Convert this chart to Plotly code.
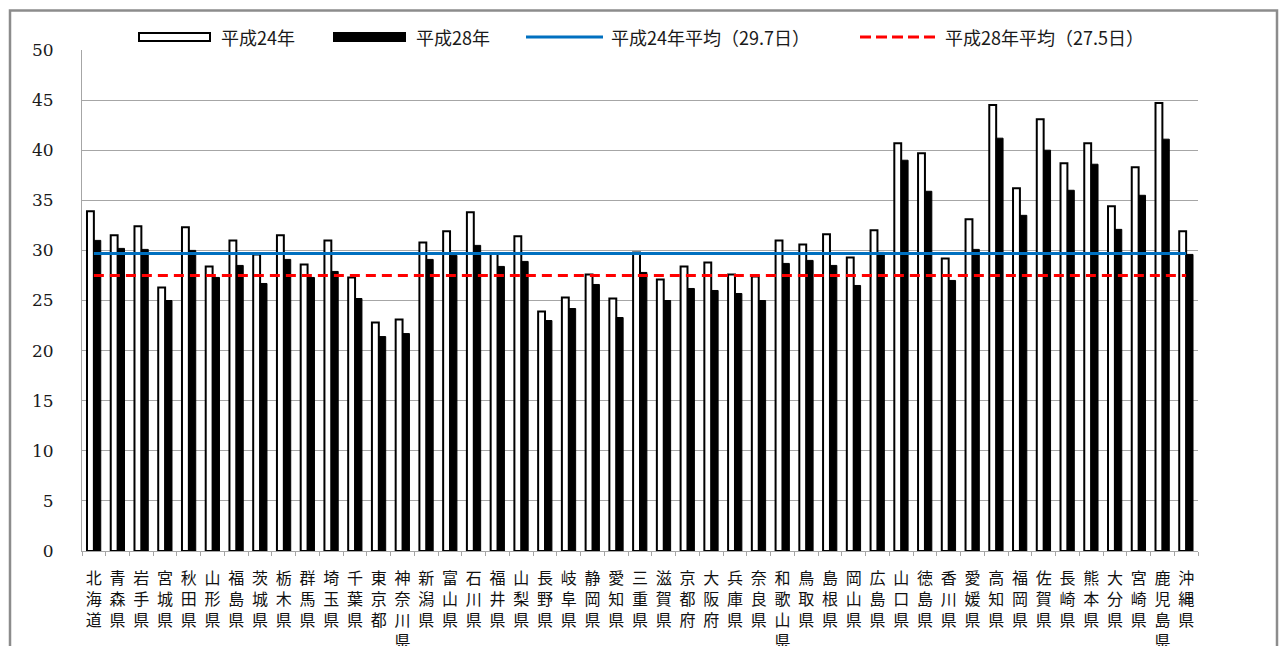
import plotly.graph_objects as go

# 都道府県
prefectures = ["北海道", "青森県", "岩手県", "宮城県", "秋田県", "山形県", "福島県", "茨城県",
               "栃木県", "群馬県", "埼玉県", "千葉県", "東京都", "神奈川県", "新潟県", "富山県",
               "石川県", "福井県", "山梨県", "長野県", "岐阜県", "静岡県", "愛知県", "三重県",
               "滋賀県", "京都府", "大阪府", "兵庫県", "奈良県", "和歌山県", "鳥取県", "島根県",
               "岡山県", "広島県", "山口県", "徳島県", "香川県", "愛媛県", "高知県", "福岡県",
               "佐賀県", "長崎県", "熊本県", "大分県", "宮崎県", "鹿児島県", "沖縄県"]

# 平成24年（日）
h24 = [33.9, 31.5, 32.4, 26.3, 32.3, 28.4, 31.0, 29.6, 31.5, 28.6, 31.0, 27.3, 22.8, 23.1,
       30.8, 31.9, 33.8, 29.7, 31.4, 23.9, 25.3, 27.6, 25.2, 29.8, 27.1, 28.4, 28.8, 27.6,
       27.4, 31.0, 30.6, 31.6, 29.3, 32.0, 40.7, 39.7, 29.2, 33.1, 44.5, 36.2, 43.1, 38.7,
       40.7, 34.4, 38.3, 44.7, 31.9]

# 平成28年（日）
h28 = [31.0, 30.2, 30.1, 25.0, 30.0, 27.3, 28.5, 26.7, 29.1, 27.3, 27.9, 25.2, 21.4, 21.7,
       29.1, 29.5, 30.5, 28.4, 28.9, 23.0, 24.2, 26.6, 23.3, 27.8, 25.0, 26.2, 26.0, 25.7,
       25.0, 28.7, 29.0, 28.5, 26.5, 29.8, 39.0, 35.9, 27.0, 30.1, 41.2, 33.5, 40.0, 36.0,
       38.6, 32.1, 35.5, 41.1, 29.6]

avg24 = 29.7
avg28 = 27.5

legend_labels = ["平成24年", "平成28年",
                 f"平成24年平均（{avg24}日）", f"平成28年平均（{avg28}日）"]

y_ticks = list(range(0, 51, 5))

# vertical labels: one character per line
x_labels = ["<br>".join(p) for p in prefectures]

W, H = 1283, 646
ML, MR, MT, MB = 82, 85, 50, 95
PW = W - ML - MR
PH = H - MT - MB

BLUE = "#0070C0"
RED = "#FF0000"
GRID = "#A6A6A6"
FRAME = "#8C8C8C"
JP_FONT = "Noto Sans CJK JP"


def fx(px):
    return (px - ML) / PW


def fy(py):
    return (H - MB - py) / PH


fig = go.Figure()

fig.add_trace(go.Bar(
    x=x_labels, y=h24, name=legend_labels[0],
    marker=dict(color="white", line=dict(color="black", width=2)),
    showlegend=False,
))
fig.add_trace(go.Bar(
    x=x_labels, y=h28, name=legend_labels[1],
    marker=dict(color="black", line=dict(color="black", width=1)),
    showlegend=False,
))
fig.add_trace(go.Scatter(
    x=x_labels, y=[avg24] * len(x_labels), mode="lines", name=legend_labels[2],
    line=dict(color=BLUE, width=3), showlegend=False,
))
fig.add_trace(go.Scatter(
    x=x_labels, y=[avg28] * len(x_labels), mode="lines", name=legend_labels[3],
    line=dict(color=RED, width=3, dash="10px,6px"), showlegend=False,
))

shapes = [
    # outer frame
    dict(type="rect", xref="paper", yref="paper",
         x0=fx(10), x1=fx(1277), y0=fy(700), y1=fy(10.5),
         line=dict(color=FRAME, width=2.5), fillcolor="rgba(0,0,0,0)", layer="below"),
    # legend swatches
    dict(type="rect", xref="paper", yref="paper",
         x0=fx(139), x1=fx(210), y0=fy(41), y1=fy(33),
         line=dict(color="black", width=2), fillcolor="white"),
    dict(type="rect", xref="paper", yref="paper",
         x0=fx(333), x1=fx(406), y0=fy(42), y1=fy(32),
         line=dict(color="black", width=0), fillcolor="black"),
    dict(type="line", xref="paper", yref="paper",
         x0=fx(526), x1=fx(603), y0=fy(37), y1=fy(37),
         line=dict(color=BLUE, width=3)),
    dict(type="line", xref="paper", yref="paper",
         x0=fx(860), x1=fx(937), y0=fy(37), y1=fy(37),
         line=dict(color=RED, width=3, dash="11px,5px")),
]

annotations = []
for txt, px in zip(legend_labels, [219, 414, 609, 943]):
    annotations.append(dict(
        text=txt, xref="paper", yref="paper", x=fx(px), y=fy(37),
        xanchor="left", yanchor="middle", showarrow=False,
        font=dict(family=JP_FONT, size=18, color="#1a1a1a"),
    ))

fig.update_layout(
    width=W, height=H,
    margin=dict(l=ML, r=MR, t=MT, b=MB, autoexpand=False),
    paper_bgcolor="white", plot_bgcolor="white",
    barmode="group", bargap=0.42, bargroupgap=0,
    shapes=shapes, annotations=annotations,
    showlegend=False,
)

fig.update_xaxes(
    automargin=False,
    showline=True, linecolor=GRID, linewidth=1,
    ticks="outside", tickson="boundaries", ticklen=4, tickcolor=GRID,
    showgrid=False,
    tickangle=0,
    ticklabelstandoff=13,
    tickfont=dict(family=JP_FONT, size=16, color="#111111"),
)
fig.update_yaxes(
    automargin=False,
    range=[0, 50], tickvals=y_ticks,
    showline=True, linecolor=GRID, linewidth=1,
    showgrid=True, gridcolor=GRID, gridwidth=1,
    zeroline=False, ticks="",
    ticklabelstandoff=24,
    tickfont=dict(family="DejaVu Serif", size=17, color="#1a1a1a"),
)

fig.write_html("out.html")
